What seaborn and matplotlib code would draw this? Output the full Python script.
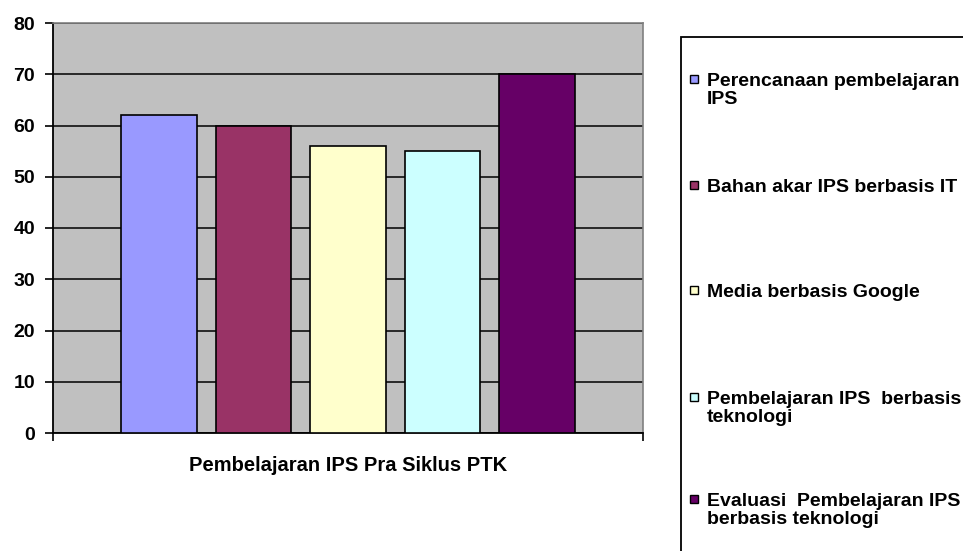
import matplotlib
matplotlib.use("Agg")
import matplotlib.pyplot as plt
import seaborn as sns
import pandas as pd
from matplotlib.patches import Rectangle

# data
group = "Pembelajaran IPS Pra Siklus PTK"
aspects = [
    "Perencanaan pembelajaran\nIPS",
    "Bahan akar IPS berbasis IT",
    "Media berbasis Google",
    "Pembelajaran IPS  berbasis\nteknologi",
    "Evaluasi  Pembelajaran IPS\nberbasis teknologi",
]
scores = [62, 60, 56, 55, 70]
colors = ["#9999FF", "#993366", "#FFFFCC", "#CCFFFF", "#660066"]

df = pd.DataFrame({"group": group, "aspect": aspects, "score": scores})

sns.set_style("white")
plt.rcParams["font.family"] = ["Liberation Sans", "DejaVu Sans"]
plt.rcParams["font.weight"] = "bold"
plt.rcParams["text.color"] = "black"
plt.rcParams["axes.labelcolor"] = "black"

W, H = 963, 551
fig = plt.figure(figsize=(W / 100, H / 100), dpi=100)
ax = fig.add_axes([53 / W, 118 / H, 590 / W, 410 / H])

sns.barplot(data=df, x="group", y="score", hue="aspect", palette=colors,
            saturation=1, width=0.8, gap=0.2, edgecolor="black",
            linewidth=1.2, legend=False, ax=ax, zorder=3)

ax.set_facecolor("#C0C0C0")
ax.set_ylim(0, 80)
ax.set_yticks(range(0, 81, 10))
ax.set_xlim(-0.5, 0.5)
ax.set_xticks([-0.5, 0.5])
ax.set_xticklabels(["", ""])
ax.yaxis.grid(True, color="black", linewidth=1.1, zorder=1)
ax.set_axisbelow(True)
ax.tick_params(axis="y", left=True, direction="out", length=6, width=1.2,
               pad=7, labelsize=14, colors="black")
ax.tick_params(axis="x", bottom=True, direction="out", length=6, width=1.2,
               colors="black")
for lab in ax.get_yticklabels():
    lab.set_fontweight("bold")

ax.set_xlabel(group, fontsize=14.5, fontweight="bold", labelpad=7,
              color="black")
ax.set_ylabel("")

for side in ["left", "bottom"]:
    ax.spines[side].set_color("black")
    ax.spines[side].set_linewidth(1.3)
for side in ["top", "right"]:
    ax.spines[side].set_color("#808080")
    ax.spines[side].set_linewidth(1.2)

# legend box, cut off by the right and bottom figure edges as in the original
fig.add_artist(Rectangle((681 / W, -0.2), 0.5, 1.2 - 37 / H,
                         transform=fig.transFigure, fill=False,
                         edgecolor="black", linewidth=1.3))

key_y = [79, 185, 290, 397, 499]
for label, color, y in zip(aspects, colors, key_y):
    fig.add_artist(Rectangle((690 / W, 1 - (y + 4) / H), 8 / W, 8 / H,
                             transform=fig.transFigure, facecolor=color,
                             edgecolor="black", linewidth=1.0))
    fig.text(707 / W, 1 - (y - 6) / H, label, fontsize=14, fontweight="bold",
             va="top", ha="left", linespacing=1.05, color="black")

fig.savefig("out.png", dpi=100)
